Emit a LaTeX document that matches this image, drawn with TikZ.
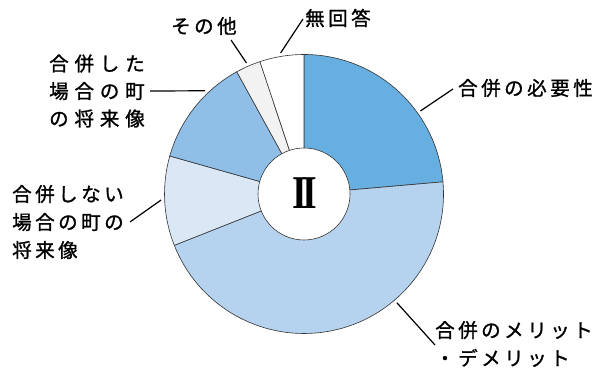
\documentclass[tikz,border=0pt]{standalone}
\usepackage{fontspec}
\usetikzlibrary{calc}
\newfontfamily\jpa{Noto Sans CJK JP}[LetterSpace=18, FakeBold=1.2]
\newfontfamily\jpb{Noto Sans CJK JP}[LetterSpace=30, FakeBold=1.2]
\newfontfamily\romfont{Liberation Serif}
\definecolor{cneed}{HTML}{67AFE1}
\definecolor{cmerit}{HTML}{B5D3EF}
\definecolor{cnot}{HTML}{DAE7F5}
\definecolor{cdid}{HTML}{8FBEE6}
\definecolor{cother}{HTML}{F2F2F2}
\tikzset{
  sector/.style={draw=black!80, line width=0.6pt},
  lbl/.style={inner sep=0pt, align=left, text=black, font={\jpa\fontsize{19.5}{28}\selectfont}},
  lblwide/.style={lbl, font={\jpb\fontsize{19.5}{27.5}\selectfont}},
  leader/.style={draw=black, line width=1.2pt}
}
\begin{document}
\begin{tikzpicture}[x=1pt,y=1pt]
\useasboundingbox (0,0) rectangle (606,369);
\coordinate (c) at (304,175);
\def\R{139.5}
\filldraw[sector, fill=cneed]  (c) -- ++(90:\R) arc[start angle=90, end angle=5, radius=\R] -- cycle;
\filldraw[sector, fill=cmerit] (c) -- ++(5:\R) arc[start angle=5, end angle=-158.4, radius=\R] -- cycle;
\filldraw[sector, fill=cnot]   (c) -- ++(201.6:\R) arc[start angle=201.6, end angle=164.2, radius=\R] -- cycle;
\filldraw[sector, fill=cdid]   (c) -- ++(164.2:\R) arc[start angle=164.2, end angle=118.8, radius=\R] -- cycle;
\filldraw[sector, fill=cother] (c) -- ++(118.8:\R) arc[start angle=118.8, end angle=108.4, radius=\R] -- cycle;
\filldraw[sector, fill=white]  (c) -- ++(108.4:\R) arc[start angle=108.4, end angle=90, radius=\R] -- cycle;
\filldraw[sector, fill=white]  (c) circle[radius=46];
\node[inner sep=0pt] (num) at (304.7,176) {\scalebox{0.8}[1]{\romfont\fontsize{47}{47}\selectfont\bfseries I\kern-5ptI}};

% labels
\node[lbl, anchor=west] (need) at (458,281) {合併の必要性};
\node[lbl, anchor=west] (merit) at (435,25) {合併のメリット\\・デメリット};
\node[lbl, anchor=west] (not) at (12,147) {合併しない\\場合の町の\\将来像};
\node[lblwide, anchor=west] (did) at (49,278) {合併した\\場合の町\\の将来像};
\node[lbl, anchor=west] (other) at (171,343) {その他};
\node[lbl, anchor=west] (noans) at (305,351) {無回答};

% leader ends on the ring
\coordinate (pneed)  at ($(c)+(35.5:143)$);
\coordinate (pmerit) at ($(c)+(-49.5:143)$);
\coordinate (pnot)   at ($(c)+(182.4:143)$);
\coordinate (pdid)   at ($(c)+(133.8:143)$);
\coordinate (pother) at ($(c)+(113.7:143)$);
\coordinate (pnoans) at ($(c)+(99.4:143)$);

\draw[leader] (pneed) -- (453,280);
\draw[leader] (pmerit) -- (435,24);
\draw[leader] (pnot) -- (130,147);
\draw[leader] (pdid) -- (150,278);
\draw[leader] (pother) -- (231,329);
\draw[leader] (pnoans) -- (303,350);
\end{tikzpicture}
\end{document}
